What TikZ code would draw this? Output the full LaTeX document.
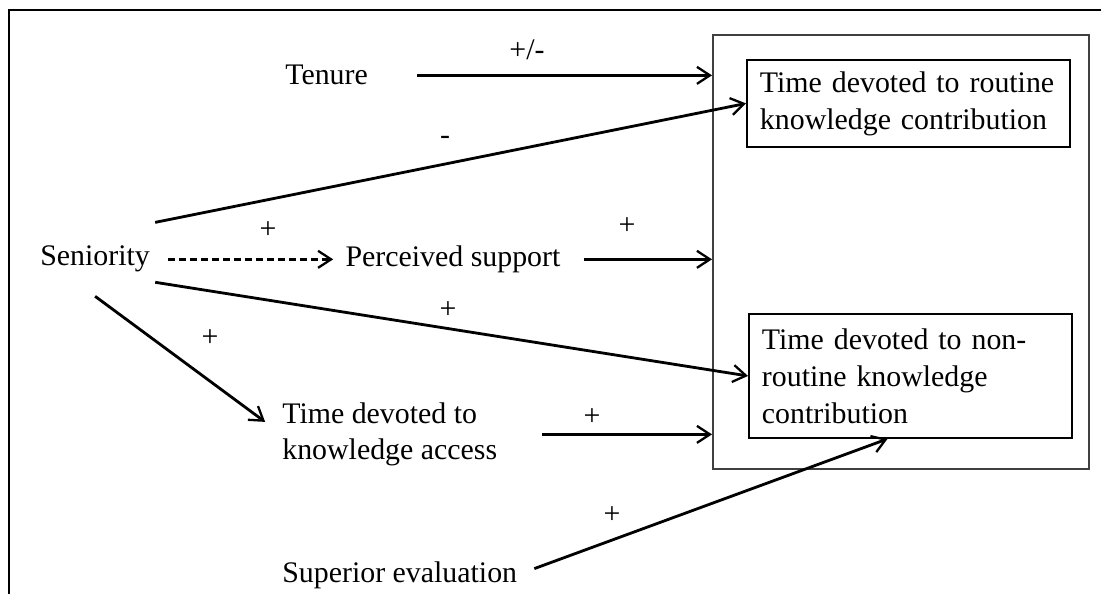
\documentclass[tikz,border=0pt]{standalone}
\usepackage{fontspec}
\setmainfont{Liberation Serif}
\usetikzlibrary{arrows.meta,positioning}

\tikzset{
  conn/.style={-{Straight Barb[length=0.26cm,width=0.34cm,line width=1.3pt]}, line width=1.6pt},
  var/.style={inner sep=0pt, anchor=base west, align=left},
  outcome/.style={draw, line width=1.1pt, align=left, text width=5.94cm, inner xsep=0.26cm, inner ysep=0pt, anchor=north west},
  sign/.style={inner sep=0pt},
}

\begin{document}
\begin{tikzpicture}[x=0.02cm, y=-0.02cm, font=\fontsize{17}{21}\selectfont]
        \useasboundingbox (0,0) rectangle (1101,594);
        \draw[line width=1.6pt] (1101,10) -| (9,594);
        % outcomes
        \node[draw=black!75, line width=1.1pt, inner sep=0pt, minimum width=7.52cm, minimum height=8.68cm, anchor=north west] (outer) at (712,34) {};
        \node[outcome, minimum height=1.74cm] (routine) at (746,59) {Time devoted to routine\\knowledge contribution};
        \node[outcome, minimum height=2.48cm] (nonroutine) at (748,313) {Time devoted to non-\\routine knowledge\\contribution};
        % predictors
        \node[var] (tenure) at (285,85) {Tenure};
        \node[var, inner xsep=0.1cm, inner ysep=0.47cm] (senior) at (35,266) {Seniority};
        \node[var, right=3.8cm of senior] (support) {Perceived support};
        \node[var, anchor=north west] (access) at (282,402) {Time devoted to\\knowledge access};
        \node[var] (superior) at (282,582) {Superior evaluation};
        % paths
        \draw[conn, shorten <=0.98cm] (tenure.east) -- (tenure.east -| outer.west);
        \draw[conn] (senior.north east) -- (routine.west);
        \draw[conn, dashed, dash pattern=on 0.14cm off 0.08cm, shorten <=0.26cm, shorten >=0.24cm] (senior.east) -- (support.west);
        \draw[conn, shorten <=0.46cm] (support.east) -- (support.east -| outer.west);
        \draw[conn] ([yshift=0.28cm]senior.south east) -- (nonroutine.west);
        \draw[conn, shorten >=0.42cm] (senior.south) -- (access.west);
        \draw[conn, shorten <=0.9cm] (access.east) -- (access.east -| outer.west);
        \draw[conn, shorten <=0.36cm] (superior.east) -- (nonroutine.250);
        % signs
        \node[sign] (s-tenure) at (527,50) {+/-};
        \node[sign] (s-routine) at (445,140) {-};
        \node[sign] (s-support) at (268,230) {+};
        \node[sign] (s-contrib) at (627,226) {+};
        \node[sign] (s-nonroutine) at (448,310) {+};
        \node[sign] (s-access) at (210,338) {+};
        \node[sign] (s-knowledge) at (592,417) {+};
        \node[sign] (s-superior) at (612,515) {+};
      \end{tikzpicture}
\end{document}
